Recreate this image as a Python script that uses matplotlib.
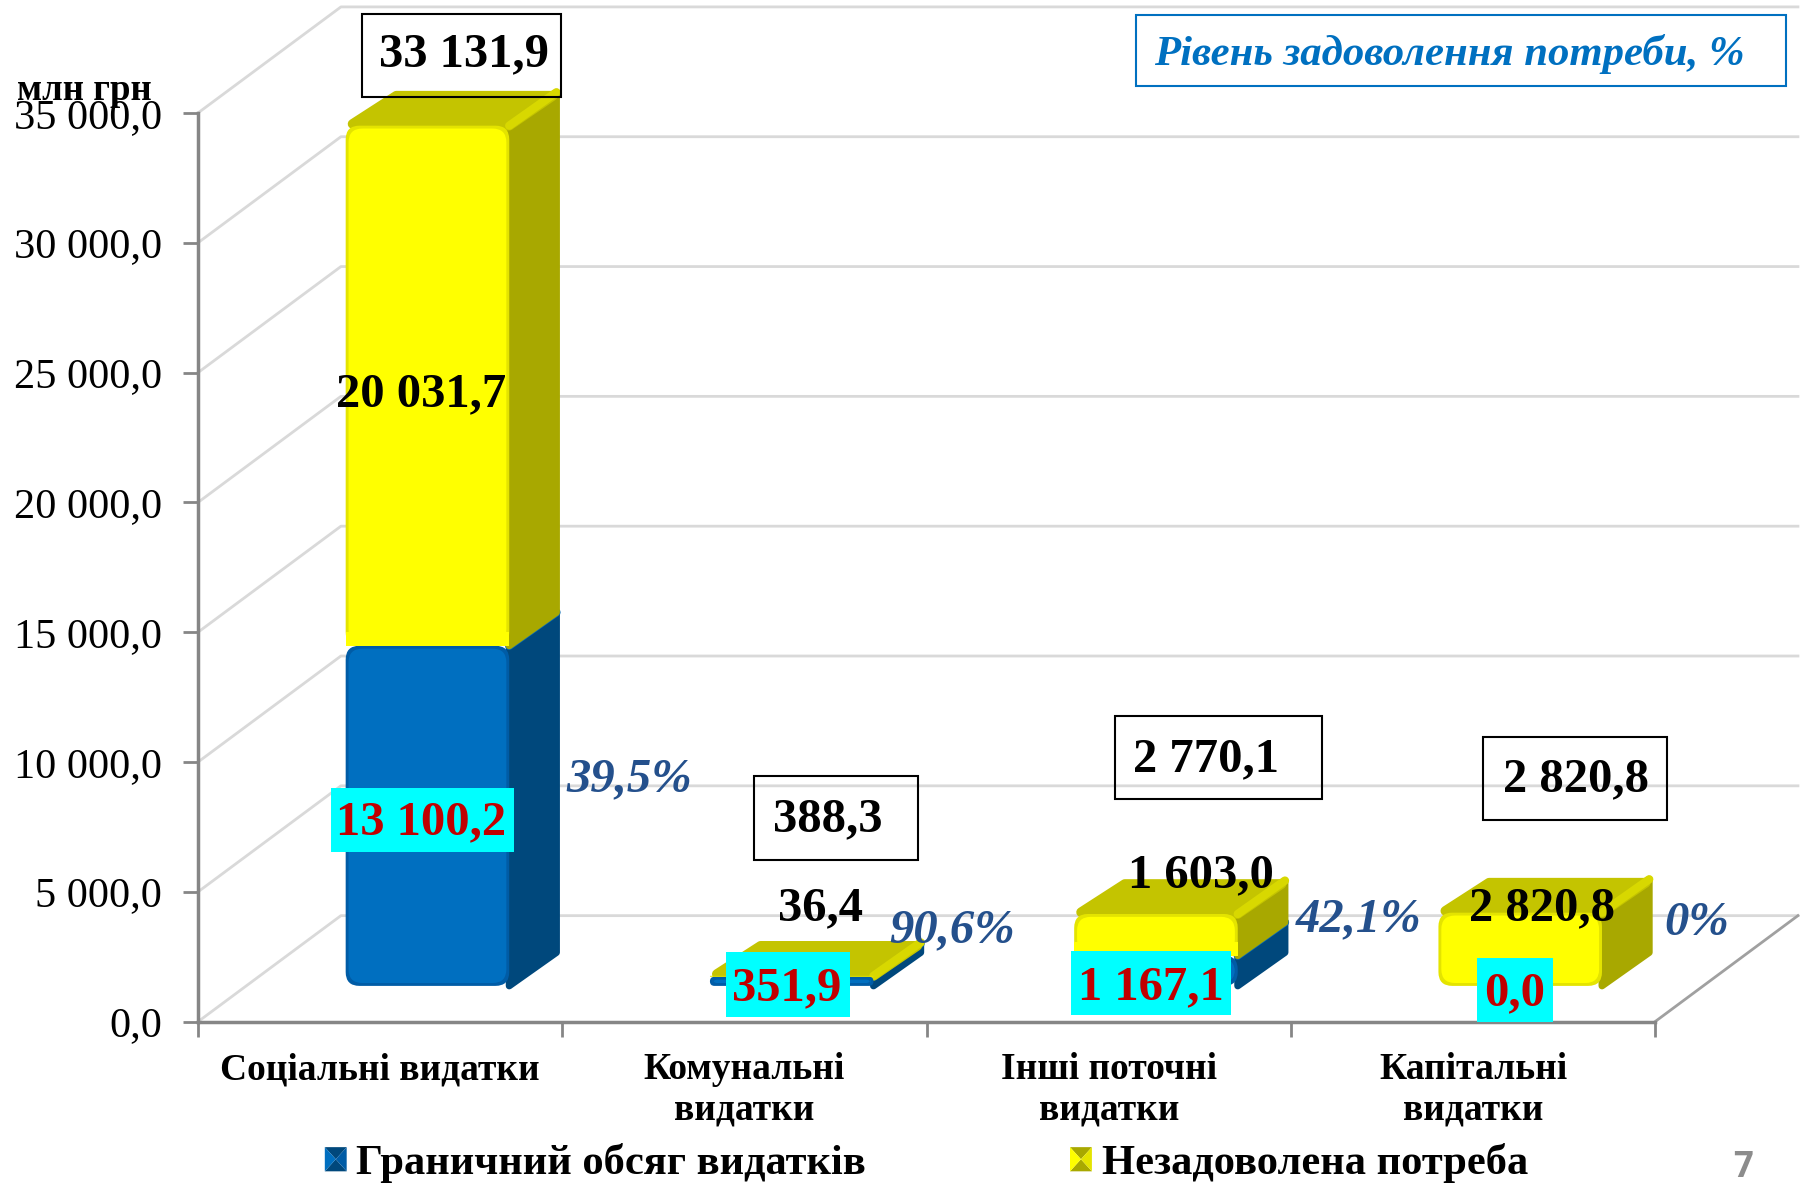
import matplotlib
matplotlib.use("Agg")
import matplotlib.pyplot as plt
from matplotlib.patches import FancyBboxPatch, Polygon, Rectangle
from matplotlib.ticker import FuncFormatter

categories = ["Соціальні видатки", "Комунальні\nвидатки", "Інші поточні\nвидатки", "Капітальні\nвидатки"]
limit_values = [13100.2, 351.9, 1167.1, 0.0]
unmet_values = [20031.7, 36.4, 1603.0, 2820.8]
total_values = [33131.9, 388.3, 2770.1, 2820.8]
percent_values = [39.5, 90.6, 42.1, 0]
y_ticks = [0, 5000, 10000, 15000, 20000, 25000, 30000, 35000]
legend_names = ["Граничний обсяг видатків", "Незадоволена потреба"]
note_text = "Рівень задоволення потреби, %"
unit_text = "млн грн"

# reference layout was measured on the 1568x1028 view
REF_W = 1568
REF_H = 1028
AX_LEFT, AX_RIGHT, AX_TOP, AX_BOTTOM = 172, 1437, 98, 887


def fx(x):
    return x / REF_W


def fy(y):
    return 1 - y / REF_H


def num(value, decimals=1):
    text = f"{value:,.{decimals}f}"
    return text.replace(",", " ").replace(".", ",")


plt.rcParams["font.family"] = ["Liberation Serif", "DejaVu Serif"]

fig = plt.figure(figsize=(18.06, 11.84), dpi=100)
ax = fig.add_axes([fx(AX_LEFT), fy(AX_BOTTOM), fx(AX_RIGHT - AX_LEFT), (AX_BOTTOM - AX_TOP) / REF_H])
ax.set_xlim(-0.5, 3.5)
ax.set_ylim(0, 35000)
ax.patch.set_visible(False)

x_unit = (AX_RIGHT - AX_LEFT) / 4
y_unit = (AX_BOTTOM - AX_TOP) / 35000
WALL_DX = 124 / x_unit
WALL_DY = 92 / y_unit
BAR_DX = 41 / x_unit
BAR_DY = 31 / y_unit
SIDE_DX = 41 / x_unit
SIDE_DY = 29 / y_unit
BAR_W = 142 / x_unit
ROUND = 12 / x_unit
ASPECT = y_unit ** -1 / (x_unit ** -1)

GRID = "#d9d9d9"
AXIS = "#868686"
YELLOW = {"front": "#ffff00", "rim": "#e4e400", "side": "#a8a800", "top": "#c4c400", "edge": "#d8d800"}
BLUE = {"front": "#006fc0", "rim": "#005ca6", "side": "#00487c", "top": "#0080d0", "edge": "#0a6cb4"}

# walls and floor
right_end = -0.5 + (1561 - AX_LEFT) / x_unit
for tick in y_ticks:
    ax.plot([-0.5, -0.5 + WALL_DX, right_end], [tick, tick + WALL_DY, tick + WALL_DY],
            color=GRID, lw=2, clip_on=False, zorder=1)
ax.plot([3.5, 3.5 + WALL_DX], [0, WALL_DY], color="#a0a0a0", lw=2, clip_on=False, zorder=1)


def draw_block(center, bottom, height, colors, is_top):
    if height <= 0:
        return
    left = center + BAR_DX - BAR_W / 2
    right = left + BAR_W
    y0 = bottom + BAR_DY
    y1 = y0 + height
    side = [(right, y0), (right + SIDE_DX, y0 + SIDE_DY), (right + SIDE_DX, y1 + SIDE_DY), (right, y1)]
    ax.add_patch(Polygon(side, closed=True, fc=colors["side"], ec=colors["side"], lw=5,
                         joinstyle="round", clip_on=False, zorder=3))
    if is_top:
        # corners pulled in, the wide round outline brings them back out
        p = 3 / x_unit
        q = 3 / y_unit
        top = [(left + 2 * p, y1 + q / 2), (left + SIDE_DX + p, y1 + SIDE_DY - q),
               (right + SIDE_DX - p, y1 + SIDE_DY - q), (right, y1)]
        ax.add_patch(Polygon(top, closed=True, fc=colors["top"], ec=colors["top"], lw=7,
                             joinstyle="round", clip_on=False, zorder=3))
    ax.plot([right, right + SIDE_DX], [y1, y1 + SIDE_DY], color=colors["edge"], lw=6,
            solid_capstyle="round", clip_on=False, zorder=3)
    rounding = min(ROUND, height / ASPECT / 2)
    ax.add_patch(FancyBboxPatch((left, y0), BAR_W, height,
                                boxstyle=f"round,pad=0,rounding_size={rounding}",
                                mutation_aspect=ASPECT, fc=colors["rim"], ec="none",
                                clip_on=False, zorder=4))
    inset_x = 2.5 / x_unit
    inset_y = 2.5 / y_unit
    if height > 3 * inset_y:
        ax.add_patch(FancyBboxPatch((left + inset_x, y0 + inset_y), BAR_W - 2 * inset_x, height - 2 * inset_y,
                                    boxstyle=f"round,pad=0,rounding_size={rounding}",
                                    mutation_aspect=ASPECT, fc=colors["front"], ec="none",
                                    clip_on=False, zorder=4))
    # stacked block sits flat on the one below it
    if bottom > 0 and height > 2 * rounding * ASPECT:
        ax.add_patch(Rectangle((left, y0), BAR_W, rounding * ASPECT, fc=colors["front"], ec="none",
                               clip_on=False, zorder=4))


for i in range(len(categories)):
    draw_block(i, 0, limit_values[i], BLUE, False)
    draw_block(i, limit_values[i], unmet_values[i], YELLOW, True)

# axes
for name in ["top", "right"]:
    ax.spines[name].set_visible(False)
for name in ["left", "bottom"]:
    ax.spines[name].set_color(AXIS)
    ax.spines[name].set_linewidth(2.5)
    ax.spines[name].set_zorder(2)
ax.set_yticks(y_ticks)
ax.yaxis.set_major_formatter(FuncFormatter(lambda v, pos: num(v)))
ax.tick_params(axis="y", length=11, width=2, color=AXIS, labelsize=30.5, pad=15)
ax.set_xticks([-0.5, 0.5, 1.5, 2.5, 3.5])
ax.set_xticklabels([])
ax.tick_params(axis="x", which="major", length=11, width=2, color=AXIS)
ax.set_xticks([0, 1, 2, 3], minor=True)
ax.set_xticklabels(categories, minor=True, fontsize=27, fontweight="bold", linespacing=1.2, va="top")
ax.tick_params(axis="x", which="minor", length=0, pad=22)

# labels, positions are taken from the reference
total_pos = [(403, 47), (719, 711), (1047, 659), (1368, 677)]
total_box = [(314, 12, 487, 84), (655, 674, 797, 747), (968, 622, 1148, 694), (1288, 640, 1447, 712)]
limit_pos = [(366, 714), (683, 858), (999, 857), (1315, 862)]
limit_box = [(287, 684, 446, 740), (630, 827, 738, 883), (930, 826, 1069, 881), (1282, 832, 1348, 887)]
unmet_pos = [(366, 342), (712, 789), (1043, 760), (1339, 789)]
percent_pos = [(546, 677), (827, 808), (1180, 798), (1473, 801)]

for i in range(len(categories)):
    x0, y0, x1, y1 = total_box[i]
    fig.add_artist(Rectangle((fx(x0), fy(y1)), fx(x1 - x0), (y1 - y0) / REF_H, transform=fig.transFigure,
                             fc="none", ec="black", lw=1.5, zorder=6))
    fig.text(fx(total_pos[i][0]), fy(total_pos[i][1]), num(total_values[i]), fontsize=35, fontweight="bold",
             ha="center", va="center", color="black", zorder=7)
    x0, y0, x1, y1 = limit_box[i]
    fig.add_artist(Rectangle((fx(x0), fy(y1)), fx(x1 - x0), (y1 - y0) / REF_H, transform=fig.transFigure,
                             fc="#00ffff", ec="none", zorder=6))
    fig.text(fx(limit_pos[i][0]), fy(limit_pos[i][1]), num(limit_values[i]), fontsize=35, fontweight="bold",
             ha="center", va="center", color="#c00000", zorder=7)
    fig.text(fx(unmet_pos[i][0]), fy(unmet_pos[i][1]), num(unmet_values[i]), fontsize=35, fontweight="bold",
             ha="center", va="center", color="black", zorder=7)
    percent = num(percent_values[i]) if percent_values[i] else "0"
    fig.text(fx(percent_pos[i][0]), fy(percent_pos[i][1]), percent + "%", fontsize=35, fontweight="bold",
             fontstyle="italic", ha="center", va="center", color="#24508c", zorder=7)

fig.text(fx(73), fy(79), unit_text, fontsize=26.5, fontweight="bold", ha="center", va="center", zorder=7)

fig.add_artist(Rectangle((fx(986), fy(75)), fx(1551 - 986), 62 / REF_H, transform=fig.transFigure,
                         fc="white", ec="#0070c0", lw=1.5, zorder=6))
fig.text(fx(1258), fy(47), note_text, fontsize=30.8, fontweight="bold", fontstyle="italic",
         ha="center", va="center", color="#0070c0", zorder=7)


def legend_icon(left, colors):
    x0, x1 = fx(left), fx(left + 19)
    y0, y1 = fy(1017), fy(996)
    xm, ym = (x0 + x1) / 2, (y0 + y1) / 2
    parts = [([(x0, y1), (x1, y1), (xm, ym)], colors["side"]),
             ([(x0, y0), (x1, y0), (xm, ym)], colors["side"]),
             ([(x0, y0), (x0, y1), (xm, ym)], colors["front"]),
             ([(x1, y0), (x1, y1), (xm, ym)], colors["rim"])]
    for points, color in parts:
        fig.add_artist(Polygon(points, closed=True, transform=fig.transFigure, fc=color, ec="none", zorder=6))


legend_icon(282, BLUE)
legend_icon(929, YELLOW)
fig.text(fx(309), fy(1010), legend_names[0], fontsize=30.6, fontweight="bold", ha="left", va="center")
fig.text(fx(957), fy(1010), legend_names[1], fontsize=30.6, fontweight="bold", ha="left", va="center")

fig.text(fx(1513), fy(1014), "7", fontsize=25, fontweight="bold", family="Open Sans",
         color="#8c8c8c", ha="center", va="center")

fig.savefig("out.png", dpi=100, facecolor="white")
